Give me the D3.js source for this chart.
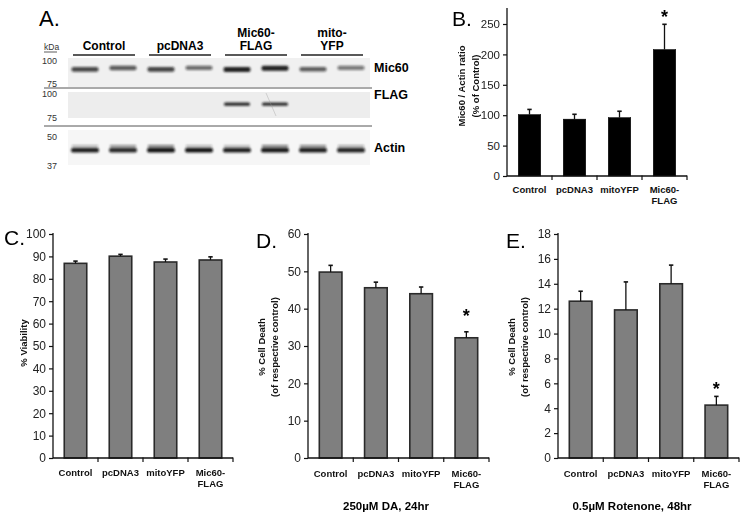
<!DOCTYPE html>
<html><head><meta charset="utf-8">
<script src="https://cdn.jsdelivr.net/npm/d3@7"></script>
<style>
body{margin:0;background:#fff;}
svg{display:block;font-family:"Liberation Sans",Arial,sans-serif;}
</style></head>
<body><svg id="c" width="749" height="521"></svg>
<script>
// ---------- DATA ----------
const categories = ["Control","pcDNA3","mitoYFP","Mic60-FLAG"];
const categoryLines = [["Control"],["pcDNA3"],["mitoYFP"],["Mic60-","FLAG"]];

// Panel B: Mic60 / Actin ratio (% of Control)
const ratioValues = [101, 93.5, 96, 208];
const ratioErrors = [8.5, 8, 10.5, 41.5];
const ratioTicks = [0, 50, 100, 150, 200, 250];
const ratioSignificant = [false, false, false, true];

// Panel C: % Viability
const viabilityValues = [86.9, 90.1, 87.5, 88.4];
const viabilityErrors = [1.0, 0.8, 1.3, 1.4];
const viabilityTicks = [0,10,20,30,40,50,60,70,80,90,100];
const viabilitySignificant = [false, false, false, false];

// Panel D: % Cell Death, 250µM DA, 24hr
const daValues = [49.8, 45.6, 44.0, 32.2];
const daErrors = [1.8, 1.5, 1.8, 1.6];
const daTicks = [0,10,20,30,40,50,60];
const daSignificant = [false, false, false, true];

// Panel E: % Cell Death, 0.5µM Rotenone, 48hr
const rotValues = [12.6, 11.9, 14.0, 4.25];
const rotErrors = [0.8, 2.25, 1.5, 0.7];
const rotTicks = [0,2,4,6,8,10,12,14,16,18];
const rotSignificant = [false, false, false, true];

// Panel A: western blot
const lanes = [1,2,3,4,5,6,7,8];
const laneGroups = [["Control"],["pcDNA3"],["Mic60-","FLAG"],["mito-","YFP"]];
const mic60Band = [0.75, 0.68, 0.8, 0.6, 0.95, 0.95, 0.66, 0.55];
const flagBand = [0, 0, 0, 0, 0.9, 0.88, 0, 0];
const actinBand = [0.92, 0.88, 0.97, 0.97, 0.92, 0.94, 0.92, 0.9];
const actinUpper = [0.3, 0.45, 0.55, 0.3, 0.25, 0.55, 0.5, 0.35];
const blotRows = ["Mic60","FLAG","Actin"];
const markerRows = [["100","75"],["100","75"],["50","37"]];

// ---------- DRAW ----------
const svg = d3.select("#c");
const FONT = '"Liberation Sans",Arial,sans-serif';

svg.append("defs").append("filter").attr("id","blur")
  .attr("x","-20%").attr("y","-100%").attr("width","140%").attr("height","300%")
  .append("feGaussianBlur").attr("stdDeviation","1.1 0.8");

// ---- Panel A ----
const gA = svg.append("g");
gA.append("text").attr("x",39).attr("y",26).attr("font-size",22).text("A.");
const laneX = d3.scalePoint().domain(lanes).range([85,351]);
const rowBoxes = [{y0:58,y1:87,fill:"#f0f0f0"},{y0:92,y1:118,fill:"#ededed"},{y0:130,y1:165,fill:"#f6f6f6"}];
gA.selectAll("rect.bg").data(rowBoxes).join("rect")
  .attr("x",68).attr("width",302).attr("y",d=>d.y0).attr("height",d=>d.y1-d.y0).attr("fill",d=>d.fill);
gA.selectAll("line.sep").data([88,126]).join("line")
  .attr("x1",44).attr("x2",372).attr("y1",d=>d).attr("y2",d=>d).attr("stroke","#555").attr("stroke-width",1);
laneGroups.forEach((lines,i)=>{
  const cx = (laneX(lanes[2*i])+laneX(lanes[2*i+1]))/2;
  if(lines.length===1){
    gA.append("text").attr("x",cx).attr("y",50).attr("text-anchor","middle").attr("font-weight","bold").attr("font-size",12).text(lines[0]);
  } else {
    gA.append("text").attr("x",cx).attr("y",36.5).attr("text-anchor","middle").attr("font-weight","bold").attr("font-size",12).text(lines[0]);
    gA.append("text").attr("x",cx).attr("y",50).attr("text-anchor","middle").attr("font-weight","bold").attr("font-size",12).text(lines[1]);
  }
  gA.append("line").attr("x1",cx-31).attr("x2",cx+31).attr("y1",55).attr("y2",55).attr("stroke","#222").attr("stroke-width",1.6);
});
gA.append("text").attr("x",44).attr("y",49.5).attr("font-size",8.5).attr("fill","#333").text("kDa");
gA.append("line").attr("x1",44).attr("x2",57).attr("y1",52).attr("y2",52).attr("stroke","#333").attr("stroke-width",0.8);
const markerY = [[63.5,86.5],[96.5,120.5],[140,168.5]];
markerRows.forEach((pair,r)=>{
  pair.forEach((m,k)=>{
    gA.append("text").attr("x",57).attr("y",markerY[r][k]).attr("text-anchor","end").attr("font-size",9).attr("fill","#333").text(m);
  });
});
const bandG = gA.append("g").attr("filter","url(#blur)");
bandG.selectAll("rect.mic").data(mic60Band).join("rect")
  .attr("x",(d,i)=>laneX(lanes[i])-13.5).attr("width",27).attr("y",(d,i)=>66.5 + (i%2?-0.8:0.5)).attr("height",d=>3+2.2*d)
  .attr("rx",2).attr("fill","#151515").attr("opacity",d=>d);
bandG.selectAll("rect.flag").data(flagBand.map((v,i)=>({v,i})).filter(d=>d.v>0)).join("rect")
  .attr("x",d=>laneX(lanes[d.i])-13).attr("width",26).attr("y",102.5).attr("height",3.2)
  .attr("rx",1.5).attr("fill","#151515").attr("opacity",d=>d.v);
bandG.selectAll("rect.actU").data(actinUpper).join("rect")
  .attr("x",(d,i)=>laneX(lanes[i])-13).attr("width",26).attr("y",145).attr("height",2.5)
  .attr("fill","#151515").attr("opacity",d=>d);
bandG.selectAll("rect.act").data(actinBand).join("rect")
  .attr("x",(d,i)=>laneX(lanes[i])-14).attr("width",28).attr("y",148).attr("height",4.5)
  .attr("rx",2).attr("fill","#111").attr("opacity",d=>d);
gA.append("line").attr("x1",laneX(6)-9).attr("y1",93).attr("x2",laneX(6)+1).attr("y2",116)
  .attr("stroke","#999").attr("stroke-width",0.6).attr("opacity",0.6);
const rowLabelY = [72, 98.5, 151.5];
blotRows.forEach((r,i)=>gA.append("text").attr("x",374).attr("y",rowLabelY[i]).attr("font-weight","bold").attr("font-size",12.5).text(r));

// ---- Bar chart helper ----
function barPanel(o){
  const g = svg.append("g");
  const x = d3.scaleBand().domain(categories).range([o.x0,o.x1]).paddingInner(0.5).paddingOuter(0.25);
  const step = (o.x1-o.x0)/categories.length;
  const y = d3.scaleLinear().domain([0,o.max]).range([o.yBottom,o.yTop]);
  g.selectAll("rect.bar").data(o.values).join("rect")
    .attr("x",(d,i)=>x(categories[i])).attr("width",x.bandwidth())
    .attr("y",d=>y(d)).attr("height",d=>y(0)-y(d))
    .attr("fill",o.fill).attr("stroke",o.stroke).attr("stroke-width",o.strokeW);
  const eb = g.selectAll("g.err").data(o.values).join("g");
  eb.append("line").attr("x1",(d,i)=>x(categories[i])+x.bandwidth()/2).attr("x2",(d,i)=>x(categories[i])+x.bandwidth()/2)
    .attr("y1",d=>y(d)).attr("y2",(d,i)=>y(d+o.errors[i])).attr("stroke","#111").attr("stroke-width",1.3);
  eb.append("line").attr("x1",(d,i)=>x(categories[i])+x.bandwidth()/2-2.2).attr("x2",(d,i)=>x(categories[i])+x.bandwidth()/2+2.2)
    .attr("y1",(d,i)=>y(d+o.errors[i])).attr("y2",(d,i)=>y(d+o.errors[i])).attr("stroke","#111").attr("stroke-width",1.6);
  const ya = g.append("g").attr("transform",`translate(${o.x0},0)`)
    .call(d3.axisLeft(y).tickValues(o.ticks).tickSize(4).tickSizeOuter(0).tickPadding(3));
  ya.select(".domain").attr("d",`M0,${o.axisTop}V${o.yBottom}`).attr("stroke","#111").attr("stroke-width",1.3);
  ya.selectAll(".tick line").attr("stroke","#111").attr("stroke-width",1.2);
  ya.selectAll(".tick text").attr("font-size",o.tickFont).attr("font-family",FONT).attr("fill","#222");
  g.append("line").attr("x1",o.x0).attr("x2",o.x1).attr("y1",o.yBottom).attr("y2",o.yBottom).attr("stroke","#111").attr("stroke-width",1.3);
  g.selectAll("line.xt").data(d3.range(1,categories.length+1)).join("line")
    .attr("x1",d=>o.x0+d*step).attr("x2",d=>o.x0+d*step).attr("y1",o.yBottom-0.5).attr("y2",o.yBottom+4).attr("stroke","#111").attr("stroke-width",1.2);
  categoryLines.forEach((lines,i)=>{
    const cx = x(categories[i])+x.bandwidth()/2;
    const t = g.append("text").attr("text-anchor","middle").attr("font-weight","bold").attr("font-size",9.5).attr("fill","#111");
    lines.forEach((l,k)=>t.append("tspan").attr("x",cx).attr("y",o.yBottom+o.labelDy+k*11).text(l));
  });
  o.yTitle.forEach((l,k)=>{
    g.append("text").attr("transform",`translate(${o.yTitleX[k]},${o.yTitleY}) rotate(-90)`)
      .attr("text-anchor","middle").attr("dominant-baseline","central").attr("font-weight","bold").attr("font-size",9.5).attr("fill","#111").text(l);
  });
  g.append("text").attr("x",o.letterX).attr("y",o.letterY).attr("font-size",21).text(o.letter);
  g.selectAll("text.star").data(o.values.map((v,i)=>({v,i})).filter(d=>o.sig[d.i])).join("text")
    .attr("x",d=>x(categories[d.i])+x.bandwidth()/2).attr("y",d=>y(d.v+o.errors[d.i])-o.starGap+10)
    .attr("text-anchor","middle").attr("font-size",18).attr("font-weight","bold").text("*");
  if(o.title){
    g.append("text").attr("x",o.titleX).attr("y",510).attr("text-anchor","middle").attr("font-weight","bold").attr("font-size",11.5).text(o.title);
  }
}

barPanel({values:ratioValues,errors:ratioErrors,sig:ratioSignificant,ticks:ratioTicks,max:250,x0:507,x1:687,yBottom:176,yTop:24,axisTop:8,
  fill:"#000",stroke:"#000",strokeW:0.5,tickFont:11.5,labelDy:17,
  yTitle:["Mic60 / Actin ratio","(% of Control)"],yTitleX:[461,475],yTitleY:86,letter:"B.",letterX:452,letterY:26,starGap:11.6});
barPanel({values:viabilityValues,errors:viabilityErrors,sig:viabilitySignificant,ticks:viabilityTicks,max:100,x0:53,x1:233,yBottom:458,yTop:234,axisTop:233,
  fill:"#7f7f7f",stroke:"#2a2a2a",strokeW:1.6,tickFont:12,labelDy:18,
  yTitle:["% Viability"],yTitleX:[23],yTitleY:343,letter:"C.",letterX:4,letterY:245,starGap:12});
barPanel({values:daValues,errors:daErrors,sig:daSignificant,ticks:daTicks,max:60,x0:308,x1:489,yBottom:458,yTop:234,axisTop:233,
  fill:"#7f7f7f",stroke:"#2a2a2a",strokeW:1.6,tickFont:12,labelDy:19,
  yTitle:["% Cell Death","(of respective control)"],yTitleX:[261,274],yTitleY:347,letter:"D.",letterX:256,letterY:248,starGap:20,
  title:"250µM DA, 24hr",titleX:386});
barPanel({values:rotValues,errors:rotErrors,sig:rotSignificant,ticks:rotTicks,max:18,x0:558,x1:739,yBottom:458,yTop:234,axisTop:233,
  fill:"#7f7f7f",stroke:"#2a2a2a",strokeW:1.6,tickFont:12,labelDy:19,
  yTitle:["% Cell Death","(of respective control)"],yTitleX:[511,524],yTitleY:347,letter:"E.",letterX:506,letterY:248,starGap:11,
  title:"0.5µM Rotenone, 48hr",titleX:632});
</script></body></html>
